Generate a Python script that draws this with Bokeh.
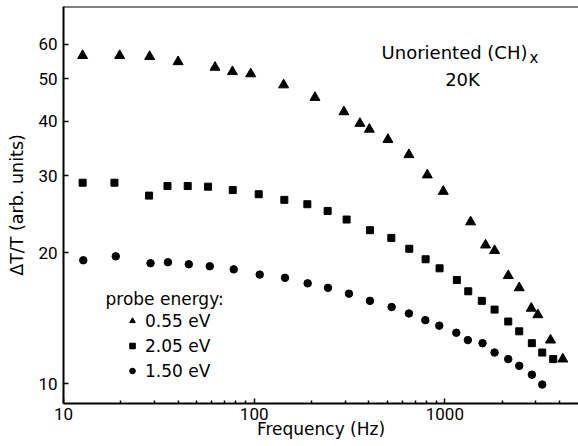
from bokeh.plotting import figure
from bokeh.models import (FixedTicker, NumeralTickFormatter, Legend, LegendItem,
                          Label, Span, Range1d)
from bokeh.embed import file_html
from bokeh.resources import INLINE

# ---- data ----
freq_055 = [12.6, 19.7, 28.3, 39.9, 62.3, 76.9, 95.9, 142.7, 208.3, 295.5, 358.5, 401.7,
            502.6, 647.6, 808.8, 980.8, 1364, 1634, 1822, 2149, 2454, 2838, 3073, 3581, 4153]
val_055 = [56.5, 56.5, 56.2, 54.7, 53.1, 51.9, 51.3, 48.4, 45.3, 42.0, 39.5, 38.3,
           36.3, 33.5, 30.1, 27.6, 23.5, 20.8, 20.2, 17.7, 16.6, 14.9, 14.4, 12.6, 11.4]

freq_205 = [12.6, 18.5, 28.1, 35.1, 44.8, 57.3, 77.2, 105.6, 143.9, 190.0, 242.8, 305.3, 404.6,
            523.7, 650.8, 792.4, 937.9, 1156, 1326, 1562, 1822, 2149, 2454, 2858, 3240, 3700]
val_205 = [28.9, 28.9, 27.0, 28.4, 28.4, 28.3, 27.8, 27.2, 26.4, 25.8, 24.9, 23.8, 22.5,
           21.6, 20.4, 19.3, 18.4, 17.3, 16.3, 15.5, 14.8, 13.9, 13.2, 12.4, 11.8, 11.4]

freq_150 = [12.7, 18.8, 28.6, 35.3, 45.4, 58.5, 78.1, 106.9, 145.0, 190.7, 243.7, 314.0, 404.6,
            525.6, 647.6, 789.5, 934.5, 1148, 1320, 1576, 1822, 2149, 2454, 2858, 3240]
val_150 = [19.2, 19.6, 18.9, 19.0, 18.8, 18.6, 18.3, 17.8, 17.5, 17.0, 16.6, 16.1, 15.5,
           15.0, 14.5, 14.0, 13.6, 13.1, 12.6, 12.4, 11.8, 11.4, 11.0, 10.5, 9.97]

series_labels = ["0.55 eV", "2.05 eV", "1.50 eV"]
x_major = [10, 100, 1000]
x_minor = [20, 30, 40, 50, 60, 70, 80, 90, 200, 300, 400, 500, 600, 700, 800, 900,
           2000, 3000, 4000]
y_ticks = [10, 20, 30, 40, 50, 60]

X_RANGE = (10, 5020)
Y_RANGE = (9.02, 73.2)

TXT = "DejaVu Sans"
NUM = "Roboto"

p = figure(width=578, height=446, x_axis_type="log", y_axis_type="log",
           x_range=Range1d(*X_RANGE), y_range=Range1d(*Y_RANGE),
           x_axis_label="Frequency (Hz)", y_axis_label="ΔT/T (arb. units)",
           output_backend="svg", toolbar_location=None,
           min_border_left=63, min_border_right=0, min_border_top=6, min_border_bottom=43)
p.outline_line_color = None
p.xgrid.visible = False
p.ygrid.visible = False
p.background_fill_color = "white"
p.border_fill_color = "white"

# axes
for ax in (p.xaxis[0], p.yaxis[0]):
    ax.axis_line_width = 2
    ax.axis_line_color = "black"
    ax.major_tick_in = 5
    ax.major_tick_out = 0
    ax.major_tick_line_width = 1.5
    ax.minor_tick_in = 3
    ax.minor_tick_out = 0
    ax.minor_tick_line_width = 1.5
    ax.major_label_text_font = NUM
    ax.major_label_text_font_size = "17px"
    ax.major_label_text_color = "black"
    ax.formatter = NumeralTickFormatter(format="0")
    ax.axis_label_text_font = TXT
    ax.axis_label_text_font_style = "normal"
    ax.axis_label_text_color = "black"

p.xaxis[0].ticker = FixedTicker(ticks=x_major, minor_ticks=x_minor)
p.yaxis[0].ticker = FixedTicker(ticks=y_ticks, minor_ticks=[])
p.xaxis[0].major_label_standoff = 4
p.yaxis[0].major_label_standoff = 6
p.xaxis[0].axis_label_text_font_size = "17px"
p.xaxis[0].axis_label_standoff = -4
p.yaxis[0].axis_label_text_font_size = "17.5px"
p.yaxis[0].axis_label_standoff = 8

# top frame line
p.add_layout(Span(location=Y_RANGE[1], dimension="width", line_color="black", line_width=2))

# data
r1 = p.scatter(freq_055, val_055, marker="triangle", size=10, color="black")
r2 = p.scatter(freq_205, val_205, marker="square", size=7, color="black")
r3 = p.scatter(freq_150, val_150, marker="circle", size=7.5, color="black")

legend = Legend(items=[LegendItem(label=series_labels[0], renderers=[r1]),
                       LegendItem(label=series_labels[1], renderers=[r2]),
                       LegendItem(label=series_labels[2], renderers=[r3])],
                location=(62, 20), glyph_width=14, glyph_height=25, label_height=25,
                spacing=0, padding=0, margin=0, label_standoff=6,
                label_text_font=TXT, label_text_font_size="17px", label_text_color="black",
                border_line_color=None, background_fill_alpha=0)
p.add_layout(legend)

# texts
p.add_layout(Label(x=42, y=105, x_units="screen", y_units="screen", text="probe energy:",
                   text_font=TXT, text_font_size="17px", text_color="black",
                   text_baseline="alphabetic"))
p.add_layout(Label(x=464, y=351, x_units="screen", y_units="screen", text="Unoriented (CH)",
                   text_font=TXT, text_font_size="18px", text_color="black", text_align="right",
                   text_baseline="alphabetic"))
p.add_layout(Label(x=466, y=346, x_units="screen", y_units="screen", text="x",
                   text_font=TXT, text_font_size="15px", text_color="black",
                   text_baseline="alphabetic"))
p.add_layout(Label(x=399, y=324, x_units="screen", y_units="screen", text="20K",
                   text_font=TXT, text_font_size="18px", text_color="black", text_align="center",
                   text_baseline="alphabetic"))

open("out.html", "w").write(file_html(p, INLINE))
